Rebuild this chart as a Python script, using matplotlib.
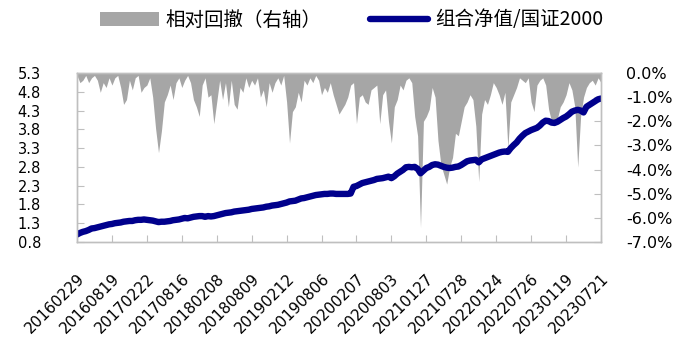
import matplotlib
matplotlib.use("Agg")
import matplotlib.pyplot as plt
import matplotlib.transforms as mtransforms
import numpy as np
from matplotlib.ticker import FuncFormatter

tick_labels = ["20160229", "20160819", "20170222", "20170816", "20180208", "20180809",
               "20190212", "20190806", "20200207", "20200803", "20210127", "20210728",
               "20220124", "20220726", "20230119", "20230721"]

nav = [1.00, 1.04, 1.07, 1.09, 1.12, 1.16, 1.17, 1.19, 1.21, 1.23, 1.25,
       1.27, 1.28, 1.30, 1.31, 1.32, 1.34, 1.35, 1.36, 1.36, 1.38,
       1.39, 1.39, 1.40, 1.39, 1.38, 1.37, 1.35, 1.33, 1.34, 1.34,
       1.35, 1.36, 1.38, 1.39, 1.40, 1.42, 1.44, 1.43, 1.45, 1.47,
       1.48, 1.49, 1.49, 1.47, 1.49, 1.48, 1.49, 1.51, 1.53, 1.55,
       1.57, 1.58, 1.59, 1.61, 1.62, 1.63, 1.64, 1.65, 1.66, 1.68,
       1.69, 1.70, 1.71, 1.72, 1.74, 1.75, 1.77, 1.78, 1.79, 1.81,
       1.83, 1.85, 1.88, 1.89, 1.90, 1.93, 1.96, 1.97, 1.99, 2.01,
       2.03, 2.05, 2.06, 2.07, 2.08, 2.08, 2.09, 2.09, 2.08, 2.08,
       2.08, 2.08, 2.08, 2.09, 2.27, 2.29, 2.33, 2.37, 2.39, 2.41,
       2.43, 2.45, 2.48, 2.49, 2.50, 2.52, 2.54, 2.50, 2.55, 2.62,
       2.67, 2.72, 2.79, 2.80, 2.79, 2.80, 2.75, 2.63, 2.70, 2.77,
       2.80, 2.85, 2.87, 2.86, 2.83, 2.80, 2.78, 2.77, 2.78, 2.80,
       2.81, 2.85, 2.90, 2.95, 2.97, 2.98, 2.99, 2.92, 3.00, 3.03,
       3.06, 3.09, 3.12, 3.15, 3.18, 3.20, 3.21, 3.20, 3.30, 3.38,
       3.45, 3.55, 3.63, 3.70, 3.74, 3.78, 3.81, 3.84, 3.90, 3.98,
       4.03, 4.02, 3.98, 3.97, 4.00, 4.05, 4.10, 4.14, 4.20, 4.27,
       4.30, 4.32, 4.30, 4.25, 4.40, 4.45, 4.50, 4.55, 4.60, 4.62]

drawdown_pct = [0.1, 0.4, 0.3, 0.1, 0.4, 0.2, 0.1, 0.3, 0.8, 0.4, 0.6,
                0.2, 0.5, 0.2, 0.1, 0.6, 1.3, 1.1, 0.3, 0.7, 0.2,
                0.1, 0.8, 0.6, 0.5, 0.2, 1.0, 2.3, 3.3, 2.4, 1.2,
                0.9, 0.5, 1.1, 0.4, 0.2, 0.6, 0.3, 0.1, 0.4, 1.1,
                1.4, 1.8, 0.5, 0.2, 1.0, 0.9, 2.1, 1.2, 0.3, 1.1,
                0.4, 1.4, 0.3, 1.3, 1.5, 0.6, 0.8, 0.2, 0.6, 0.3,
                0.5, 0.2, 1.0, 0.7, 1.4, 0.4, 0.8, 0.4, 0.2, 0.5,
                0.1, 1.2, 2.9, 1.6, 1.4, 0.8, 1.2, 0.3, 0.5, 0.2,
                0.4, 0.1, 0.3, 0.9, 0.6, 0.8, 0.4, 0.9, 1.3, 1.7,
                1.5, 1.3, 1.0, 0.5, 0.4, 2.1, 1.0, 0.9, 1.2, 1.3,
                0.7, 0.6, 0.5, 2.1, 0.9, 0.7, 2.0, 2.9, 1.4, 1.1,
                0.5, 0.7, 0.3, 0.2, 0.4, 1.8, 2.6, 6.4, 2.0, 1.8,
                1.5, 0.6, 1.0, 2.8, 3.8, 4.2, 4.6, 3.9, 3.5, 2.5,
                2.6, 2.0, 1.4, 1.2, 0.9, 1.1, 2.2, 4.5, 1.7, 1.1,
                1.3, 0.9, 0.4, 0.6, 0.9, 1.3, 0.8, 3.1, 1.2, 0.9,
                0.6, 0.2, 0.3, 0.4, 0.2, 1.2, 1.6, 0.5, 0.3, 0.2,
                0.5, 1.5, 2.0, 2.2, 1.9, 1.4, 1.2, 0.9, 0.4, 0.7,
                1.4, 3.9, 1.8, 1.0, 0.6, 0.4, 0.3, 0.5, 0.2, 0.4]

left_ticks = [0.8, 1.3, 1.8, 2.3, 2.8, 3.3, 3.8, 4.3, 4.8, 5.3]
right_ticks = [0.0, -1.0, -2.0, -3.0, -4.0, -5.0, -6.0, -7.0]
label_step = 12

cjk = ['Noto Sans CJK SC', 'DejaVu Sans']
plt.rcParams['font.family'] = cjk

x = np.arange(len(nav))
dd = -np.array(drawdown_pct)

fig = plt.figure(figsize=(6.9, 3.63), dpi=100)
ax = fig.add_axes([77/690, 1-242/363, 524/690, 169/363])
ax2 = ax.twinx()
ax.set_zorder(2)
ax.patch.set_visible(False)

ax2.fill_between(x, dd, 0, color='#A6A6A6', linewidth=0, label='相对回撤（右轴）')
ax.plot(x, nav, color='#00008C', linewidth=4.6, solid_capstyle='round', solid_joinstyle='round',
        label='组合净值/国证2000')

ax.set_xlim(0, len(nav)-1)
ax.set_ylim(0.8, 5.3)
ax2.set_ylim(-7.0, 0.0)
ax.set_yticks(left_ticks)
ax.set_yticklabels([f"{v:.1f}" for v in left_ticks], family='Liberation Sans Narrow', fontsize=10.5)
ax2.set_yticks(right_ticks)
ax2.yaxis.set_major_formatter(FuncFormatter(lambda v, p: f"{v:.1f}%"))
for t in ax2.get_yticklabels():
    t.set_family('DejaVu Sans')
    t.set_fontsize(11.5)
ax.set_xticks(x[::label_step])
ax.set_xticklabels(tick_labels, rotation=45, ha='right', va='top', rotation_mode='anchor',
                   family='DejaVu Sans', fontsize=11)
shift = mtransforms.ScaledTranslation(5/100, 0, fig.dpi_scale_trans)
for t in ax.get_xticklabels():
    t.set_transform(t.get_transform() + shift)

spine_c = '#BFBFBF'
for a in (ax, ax2):
    for s in a.spines.values():
        s.set_color(spine_c)
        s.set_linewidth(1.0)
ax.tick_params(axis='y', direction='in', length=5, color=spine_c, pad=26)
ax.tick_params(axis='x', direction='in', length=5, color=spine_c, pad=21)
ax2.tick_params(axis='y', direction='in', length=5, color=spine_c, pad=18)

h2, l2 = ax2.get_legend_handles_labels()
h1, l1 = ax.get_legend_handles_labels()
fig.legend(h2 + h1, l2 + l1, loc='center', bbox_to_anchor=(0.51, 1-20/363), ncol=2,
           frameon=False, fontsize=14, handlelength=3.0, handletextpad=0.35, columnspacing=2.5)

fig.savefig('out.png', dpi=100)
